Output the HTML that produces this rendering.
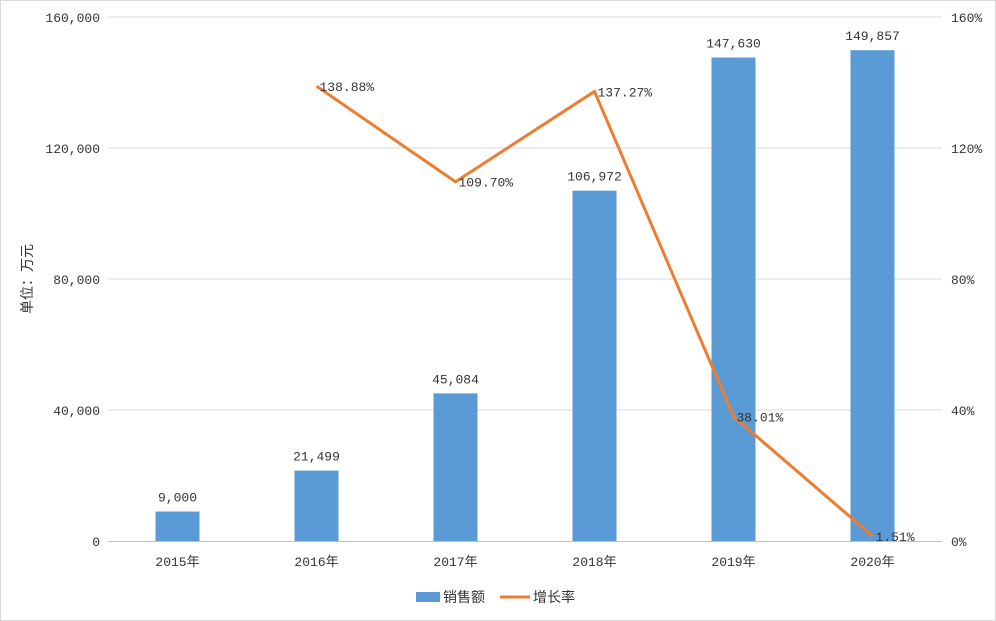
<!DOCTYPE html>
<html><head><meta charset="utf-8">
<style>
html,body{margin:0;padding:0;background:#fff;}
svg{display:block;font-family:"Liberation Mono","Noto Sans CJK SC",monospace;}
</style></head>
<body>
<svg id="chart" width="996" height="621" viewBox="0 0 996 621">
<rect x="0.5" y="0.5" width="995" height="620" fill="#fff" stroke="#d9d9d9"/>
<g id="grid"></g>
<g id="bars"></g>
<g id="line"></g>
<g id="axes"></g>
<text x="32" y="279" transform="rotate(-90 32 279)" text-anchor="middle" font-size="14" fill="#333" font-family="'Liberation Sans','Noto Sans CJK SC',sans-serif">单位：万元</text>
<g>
<rect x="416" y="592" width="24" height="10" fill="#5b9bd5"/>
<text x="443" y="602" font-size="14" fill="#333" font-family="'Liberation Sans','Noto Sans CJK SC',sans-serif">销售额</text>
<line x1="500" y1="597" x2="530" y2="597" stroke="#ed7d31" stroke-width="3"/>
<text x="533" y="602" font-size="14" fill="#333" font-family="'Liberation Sans','Noto Sans CJK SC',sans-serif">增长率</text>
</g>
</svg>
<script>
const categories = ["2015年","2016年","2017年","2018年","2019年","2020年"];
const salesValues = [9000,21499,45084,106972,147630,149857];
const salesLabels = ["9,000","21,499","45,084","106,972","147,630","149,857"];
const growthValues = [null,138.88,109.70,137.27,38.01,1.51];
const growthLabels = ["","138.88%","109.70%","137.27%","38.01%","1.51%"];
const leftTicks = [0,40000,80000,120000,160000];
const leftTickLabels = ["0","40,000","80,000","120,000","160,000"];
const rightTicks = [0,40,80,120,160];
const rightTickLabels = ["0%","40%","80%","120%","160%"];

const NS="http://www.w3.org/2000/svg";
const X0=108,X1=942,Y0=541,Y1=17;
const band=(X1-X0)/categories.length;
const xC=i=>X0+band*(i+0.5);
const yL=v=>Y0-(v/160000)*(Y0-Y1);
const yR=v=>Y0-(v/160)*(Y0-Y1);
function mk(tag,attrs,parent,text){const e=document.createElementNS(NS,tag);for(const k in attrs)e.setAttribute(k,attrs[k]);if(text!==undefined)e.textContent=text;document.getElementById(parent).appendChild(e);return e;}

leftTicks.forEach((t,i)=>{
  if(t>0){const g=mk('line',{x1:X0,x2:X1,y1:yL(t),y2:yL(t),stroke:'#d9d9d9','stroke-width':1},'grid');
  
  }
  const l=mk('text',{x:X0-8,y:yL(t)+5,'text-anchor':'end','font-size':13,fill:'#333'},'axes',leftTickLabels[i]);
  
  
});
rightTicks.forEach((t,i)=>{
  const l=mk('text',{x:X1+9,y:yR(t)+5,'text-anchor':'start','font-size':13,fill:'#333'},'axes',rightTickLabels[i]);
  
  
});
const ax=mk('line',{x1:X0,x2:X1,y1:Y0+0.5,y2:Y0+0.5,stroke:'#bfbfbf'},'axes');


categories.forEach((c,i)=>{
  const l=mk('text',{x:xC(i),y:Y0+25,'text-anchor':'middle','font-size':13,fill:'#333'},'axes',c);
  
  
  const bw=44;
  const b=mk('rect',{x:xC(i)-bw/2,y:yL(salesValues[i]),width:bw,height:Y0-yL(salesValues[i]),fill:'#5b9bd5'},'bars');
  
  
  const v=mk('text',{x:xC(i),y:yL(salesValues[i])-10,'text-anchor':'middle','font-size':13,fill:'#333'},'bars',salesLabels[i]);
  
  
});
let pts=[];
growthValues.forEach((g,i)=>{if(g!==null)pts.push(xC(i)+','+yR(g));});
const pl=mk('polyline',{points:pts.join(' '),fill:'none',stroke:'#ed7d31','stroke-width':3,'stroke-linejoin':'round'},'line');


growthValues.forEach((g,i)=>{if(g===null)return;
  const t=mk('text',{x:xC(i)+3,y:yR(g)+5,'font-size':13,fill:'#333'},'line',growthLabels[i]);
  
  
});
</script>
</body></html>
